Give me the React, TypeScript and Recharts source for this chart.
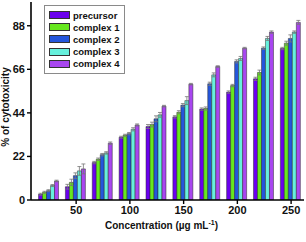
import React from 'react';
import { BarChart, Bar, XAxis, YAxis, ErrorBar, Legend, Label } from 'recharts';

const concentrations = [25, 50, 75, 100, 125, 150, 175, 200, 225, 250];
const precursor = [2.9, 6.7, 18.9, 31.7, 37.1, 42.0, 45.9, 54.5, 61.2, 76.5];
const complex1 = [3.9, 8.9, 20.6, 32.7, 38.1, 44.3, 46.2, 57.8, 64.4, 79.2];
const complex2 = [4.7, 12.3, 22.9, 33.5, 41.0, 47.9, 58.7, 70.0, 76.7, 81.6];
const complex3 = [7.3, 14.7, 23.8, 35.7, 43.0, 50.2, 63.2, 71.5, 81.6, 84.8];
const complex4 = [9.6, 15.7, 28.7, 37.9, 47.4, 58.5, 67.4, 76.7, 84.8, 89.7];
const errPrecursor = [0.5, 1.2, 0.6, 0.5, 1.0, 0.6, 0.6, 0.6, 0.8, 0.6];
const errComplex1 = [0.5, 1.6, 0.6, 0.5, 1.2, 0.8, 0.8, 0.6, 1.2, 1.0];
const errComplex2 = [0.5, 1.4, 0.6, 0.6, 1.5, 0.8, 0.8, 0.8, 0.6, 1.8];
const errComplex3 = [0.5, 2.2, 0.6, 0.8, 1.2, 2.0, 1.0, 1.0, 1.0, 0.6];
const errComplex4 = [0.4, 2.5, 0.6, 0.5, 0.4, 0.4, 0.4, 0.4, 0.6, 1.0];
const yTicks = [0, 22, 44, 66, 88];
const xTicks = [50, 100, 150, 200, 250];

const series = [
  { key: 'precursor', name: 'precursor', color: '#6a00ee', err: 'ePrecursor' },
  { key: 'complex1', name: 'complex 1', color: '#66e81e', err: 'eComplex1' },
  { key: 'complex2', name: 'complex 2', color: '#2456dc', err: 'eComplex2' },
  { key: 'complex3', name: 'complex 3', color: '#66f0dc', err: 'eComplex3' },
  { key: 'complex4', name: 'complex 4', color: '#a846f0', err: 'eComplex4' },
];

const data = concentrations.map((c, i) => ({
  conc: c,
  precursor: precursor[i],
  complex1: complex1[i],
  complex2: complex2[i],
  complex3: complex3[i],
  complex4: complex4[i],
  ePrecursor: errPrecursor[i],
  eComplex1: errComplex1[i],
  eComplex2: errComplex2[i],
  eComplex3: errComplex3[i],
  eComplex4: errComplex4[i],
}));

const FONT = '"Liberation Sans", Arial, sans-serif';

const renderLegend = () => (
  <div
    style={{
      border: '1px solid #8a8a8a',
      background: '#fff',
      padding: '3px 4px 3px 4px',
      fontFamily: FONT,
      fontWeight: 'bold',
      fontSize: 9.5,
      color: '#111',
      boxSizing: 'border-box',
      width: 81,
    }}
  >
    {series.map((s) => (
      <div key={s.key} style={{ display: 'flex', alignItems: 'center', height: 12.2 }}>
        <div
          style={{
            width: 21,
            height: 8,
            background: s.color,
            border: '0.7px solid #333',
            marginRight: 3,
            boxSizing: 'border-box',
          }}
        />
        <span>{s.name}</span>
      </div>
    ))}
  </div>
);

const XLabel = (props: any) => {
  const vb = props.viewBox || {};
  const cx = vb.x + vb.width / 2;
  return (
    <text
      x={cx - 6}
      y={229}
      textAnchor="middle"
      fontFamily={FONT}
      fontWeight="bold"
      fontSize={10}
      fill="#111"
    >
      Concentration (µg mL
      <tspan dy={-4} fontSize={7}>-1</tspan>
      <tspan dy={4}>)</tspan>
    </text>
  );
};

const YLabel = (props: any) => {
  const vb = props.viewBox || {};
  const cy = vb.y + vb.height / 2 + 6;
  const x = 9;
  return (
    <text
      x={x}
      y={cy}
      transform={`rotate(-90, ${x}, ${cy})`}
      textAnchor="middle"
      fontFamily={FONT}
      fontWeight="bold"
      fontSize={10}
      fill="#111"
    >
      % of cytotoxicity
    </text>
  );
};

export default function App() {
  return (
    <div style={{ position: 'fixed', left: 0, top: 0, background: '#fff' }}>
      <BarChart
        width={306}
        height={242}
        data={data}
        margin={{ top: 2, right: 2, left: 0, bottom: 0 }}
        barGap={0}
        barCategoryGap="10%"
      >
        <XAxis
          dataKey="conc"
          type="number"
          domain={[8, 262]}
          allowDataOverflow
          ticks={xTicks}
          height={42}
          tickSize={4}
          axisLine={{ stroke: '#000', strokeWidth: 1.6 }}
          tickLine={{ stroke: '#000', strokeWidth: 1.4 }}
          tick={{ fontFamily: FONT, fontWeight: 'bold', fontSize: 11, fill: '#111' }}
        >
          <Label content={<XLabel />} />
        </XAxis>
        <XAxis
          xAxisId="top"
          orientation="top"
          dataKey="conc"
          type="number"
          domain={[8, 262]}
          height={0}
          tick={false}
          tickLine={false}
          axisLine={{ stroke: '#111', strokeWidth: 2 }}
        />
        <YAxis
          domain={[0, 100]}
          ticks={yTicks}
          width={31}
          tickSize={4}
          allowDataOverflow
          axisLine={{ stroke: '#000', strokeWidth: 1.6 }}
          tickLine={{ stroke: '#000', strokeWidth: 1.4 }}
          tick={{ fontFamily: FONT, fontWeight: 'bold', fontSize: 11, fill: '#111' }}
        >
          <Label content={<YLabel />} />
        </YAxis>
        <YAxis
          yAxisId="right"
          orientation="right"
          domain={[0, 100]}
          width={0}
          tick={false}
          tickLine={false}
          axisLine={{ stroke: '#111', strokeWidth: 2 }}
        />
        <Legend
          layout="vertical"
          align="center"
          verticalAlign="middle"
          content={renderLegend}
          wrapperStyle={{ left: 44, top: 5, width: 81, height: 70 }}
        />
        {series.map((s) => (
          <Bar
            key={s.key}
            dataKey={s.key}
            name={s.name}
            fill={s.color}
            stroke="#2a2a2a"
            strokeWidth={0.5}
            isAnimationActive={false}
          >
            <ErrorBar dataKey={s.err} width={2} stroke="#777" strokeWidth={0.8} />
          </Bar>
        ))}
      </BarChart>
    </div>
  );
}
